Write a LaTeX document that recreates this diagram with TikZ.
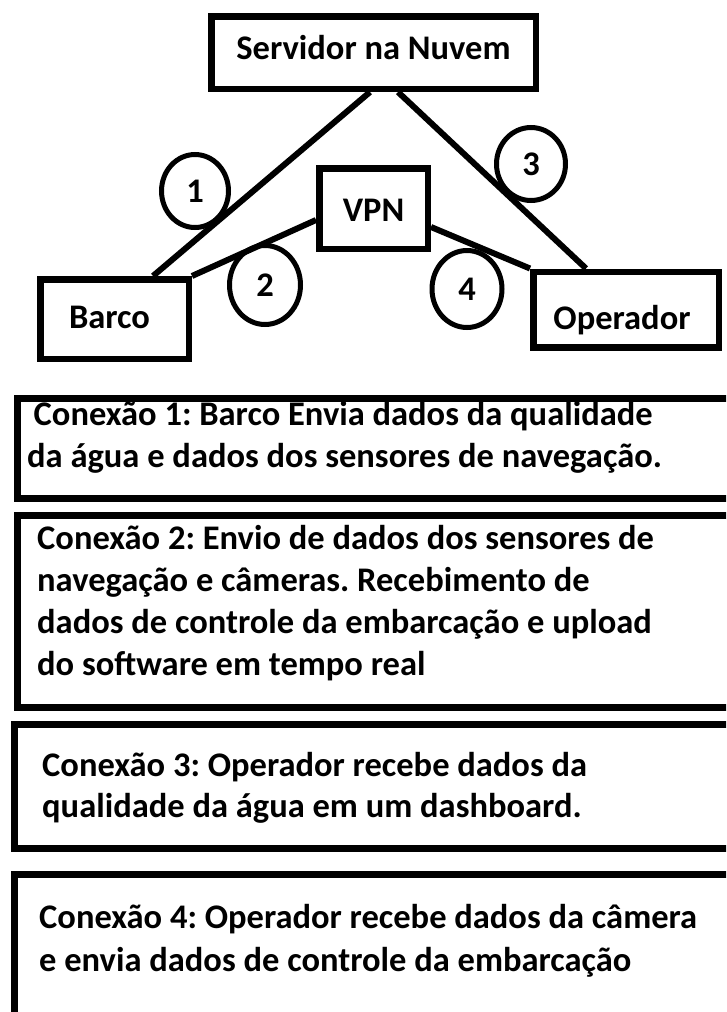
\documentclass[tikz,border=0pt]{standalone}
\usepackage{fontspec}
\setmainfont{Carlito}
\usetikzlibrary{shapes.geometric}
\frenchspacing
\begin{document}
\begin{tikzpicture}[x=1pt,y=-1pt,
  topbox/.style={draw, line width=6.5pt, rectangle, inner sep=0pt,
    text height=22pt, text depth=0pt,
    font=\bfseries\fontsize{34.5}{40}\selectfont},
  numcirc/.style={draw, line width=5pt, ellipse, inner sep=0pt,
    font=\bfseries\fontsize{34.5}{40}\selectfont},
  conn/.style={line width=6pt},
  descbox/.style={draw, line width=7pt, rectangle, inner sep=0pt, anchor=north west},
  desctext/.style={anchor=base west, inner sep=0pt, font=\bfseries\fontsize{34.5}{42}\selectfont}
]
\useasboundingbox (0,0) rectangle (726,1012);
\begin{scope}
\clip (0,0) rectangle (726,1012);
% top diagram boxes
\node[topbox, minimum width=324.5pt, minimum height=72.5pt] (serv) at (373.5,52.5) {\raisebox{4.5pt}{Servidor na Nuvem}};
\node[topbox, minimum width=108.5pt, minimum height=80.5pt] (vpn) at (373.5,208.5) {\raisebox{-1.5pt}{VPN}};
\node[topbox, minimum width=148.5pt, minimum height=79.5pt] (barco) at (114.5,319) {\hspace*{-10pt}\raisebox{2pt}{Barco}};
\node[topbox, minimum width=185.5pt, minimum height=75.5pt] (oper) at (626,309.5) {\hspace*{-8pt}\raisebox{-9pt}{Operador}};
% connectors
\draw[conn] ([xshift=-3.5pt]serv.south) -- ([xshift=38.5pt]barco.north);
\draw[conn] ([xshift=24.5pt]serv.south) -- ([xshift=-40pt]oper.north);
\draw[conn] ([yshift=-11.5pt]vpn.west) -- (barco.north east);
\draw[conn] ([yshift=-18.5pt]vpn.east) -- (oper.north west);
% number circles
\node[numcirc, minimum width=67pt, minimum height=73pt] (c1) at (195,191) {1};
\node[numcirc, minimum width=69pt, minimum height=73pt] (c3) at (531,164) {3};
\node[numcirc, minimum width=71pt, minimum height=79pt] (c2) at (265,285) {2};
\node[numcirc, minimum width=70pt, minimum height=77pt] (c4) at (467,289) {4};
% description boxes
\node[descbox, minimum width=750pt, minimum height=100pt] (d1) at (13.5,394.5) {};
\node[descbox, minimum width=750pt, minimum height=192pt] (d2) at (13.5,511.5) {};
\node[descbox, minimum width=750pt, minimum height=124pt] (d3) at (10.5,720.5) {};
\node[descbox, minimum width=750pt, minimum height=200pt] (d4) at (10.5,870.5) {};
% description texts
\node[desctext] (t1a) at (33.5,425) {Conexão 1: Barco Envia dados da qualidade};
\node[desctext] (t1b) at (27,467) {da água e dados dos sensores de navegação.};
\node[desctext] (t2a) at (37,549) {Conexão 2: Envio de dados dos sensores de};
\node[desctext] (t2b) at (37,591) {navegação e câmeras. Recebimento de};
\node[desctext] (t2c) at (37,633) {dados de controle da embarcação e upload};
\node[desctext] (t2d) at (37,675) {do software em tempo real};
\node[desctext] (t3a) at (42,776) {Conexão 3: Operador recebe dados da};
\node[desctext] (t3b) at (42,817) {qualidade da água em um dashboard.};
\node[desctext] (t4a) at (39,928) {Conexão 4: Operador recebe dados da câmera};
\node[desctext] (t4b) at (39,971) {e envia dados de controle da embarcação};
\end{scope}
\end{tikzpicture}
\end{document}
